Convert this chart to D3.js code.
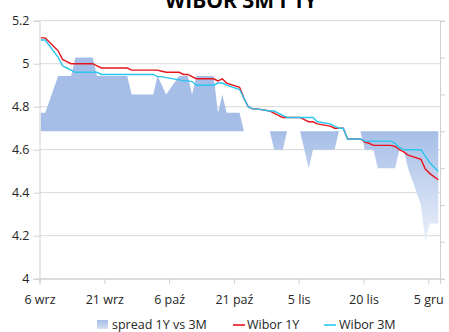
<!DOCTYPE html>
<html>
<head>
<meta charset="utf-8">
<script src="https://cdn.jsdelivr.net/npm/d3@7"></script>
<style>
  html, body { margin: 0; padding: 0; background: #ffffff; }
  svg { display: block; }
  text { font-family: "Open Sans", "Noto Sans", sans-serif; fill: #262626; }
</style>
</head>
<body>
<svg id="chart" width="449" height="332"></svg>
<script>
// Business days, Sep 6 – Dec 7 2012
const dates = [
  "2012-09-06","2012-09-07","2012-09-10","2012-09-11","2012-09-12","2012-09-13","2012-09-14",
  "2012-09-17","2012-09-18","2012-09-19","2012-09-20","2012-09-21","2012-09-24","2012-09-25",
  "2012-09-26","2012-09-27","2012-09-28",
  "2012-10-01","2012-10-02","2012-10-03","2012-10-04","2012-10-05","2012-10-08","2012-10-09",
  "2012-10-10","2012-10-11","2012-10-12","2012-10-15","2012-10-16","2012-10-17","2012-10-18",
  "2012-10-19","2012-10-22","2012-10-23","2012-10-24","2012-10-25","2012-10-26","2012-10-29",
  "2012-10-30","2012-10-31",
  "2012-11-01","2012-11-02","2012-11-05","2012-11-06","2012-11-07","2012-11-08","2012-11-09",
  "2012-11-12","2012-11-13","2012-11-14","2012-11-15","2012-11-16","2012-11-19","2012-11-20",
  "2012-11-21","2012-11-22","2012-11-23","2012-11-26","2012-11-27","2012-11-28","2012-11-29",
  "2012-11-30",
  "2012-12-03","2012-12-04","2012-12-05","2012-12-06","2012-12-07"
];

const wibor1Y = [
  5.12,5.12,5.06,5.02,5.01,5.00,5.00,5.00,5.00,4.99,4.98,4.98,4.98,4.98,4.98,4.97,4.97,
  4.97,4.97,4.97,4.965,4.96,4.96,4.95,4.95,4.94,4.93,4.93,4.93,4.92,4.93,4.91,4.89,4.84,4.80,4.79,4.79,4.78,4.77,4.76,
  4.75,4.75,4.75,4.74,4.73,4.73,4.72,4.71,4.70,4.70,4.70,4.65,4.65,4.635,4.63,4.62,4.62,4.62,4.615,4.60,4.59,4.575,
  4.555,4.51,4.49,4.475,4.46
];

const wibor3M = [
  5.11,5.11,5.03,4.99,4.98,4.97,4.96,4.96,4.96,4.96,4.95,4.95,4.95,4.95,4.95,4.95,4.95,
  4.95,4.95,4.94,4.94,4.935,4.925,4.92,4.92,4.917,4.90,4.90,4.90,4.91,4.91,4.90,4.88,4.84,4.80,4.79,4.79,4.78,4.78,4.77,
  4.76,4.75,4.75,4.75,4.75,4.75,4.73,4.72,4.71,4.70,4.70,4.65,4.65,4.64,4.64,4.64,4.64,4.64,4.63,4.61,4.60,4.60,
  4.60,4.57,4.54,4.52,4.50
];

const spread = [
  0.01,0.01,0.03,0.03,0.03,0.03,0.04,0.04,0.04,0.03,0.03,0.03,0.03,0.03,0.03,0.02,0.02,
  0.02,0.02,0.03,0.025,0.02,0.03,0.03,0.03,0.02,0.03,0.03,0.03,0.01,0.02,0.01,0.01,0,0,0,0,0,-0.01,-0.01,
  -0.01,0,0,-0.01,-0.02,-0.01,-0.01,-0.01,-0.01,0,0,0,0,-0.01,-0.01,-0.01,-0.02,-0.02,-0.02,-0.01,-0.01,-0.02,
  -0.04,-0.06,-0.05,-0.05,-0.05
];

const tickDates = ["2012-09-06","2012-09-21","2012-10-06","2012-10-21","2012-11-05","2012-11-20","2012-12-05"];
const tickLabels = ["6 wrz","21 wrz","6 paź","21 paź","5 lis","20 lis","5 gru"];
const yTicks = [4, 4.2, 4.4, 4.6, 4.8, 5, 5.2];
const spreadTicks = [-0.08, -0.06, -0.04, -0.02, 0, 0.02, 0.04, 0.06];

const title = "WIBOR 3M I 1Y";
const seriesNames = ["spread 1Y vs 3M", "Wibor 1Y", "Wibor 3M"];
const colors = { spreadTop: "#a6bee7", spreadBottom: "#f0f4fb", y1: "#e8141c", m3: "#29c5ef" };

const parse = d3.timeParse("%Y-%m-%d");
const day = 864e5;
const rows = dates.map((d, i) => ({ date: parse(d), y1: wibor1Y[i], m3: wibor3M[i], s: spread[i] }));

const svg = d3.select("#chart");
const plot = { left: 39.5, right: 440, top: 20.7, bottom: 278.7 };

const x = d3.scaleTime()
  .domain([parse("2012-09-06"), new Date(parse("2012-12-07").getTime() + 0.72 * day)])
  .range([plot.left, plot.right]);
// each point sits a little inside its day band
const px = d => x(new Date(d.getTime() + 0.32 * day));

const y = d3.scaleLinear().domain([4, 5.2]).range([plot.bottom, plot.top]);
const ys = d3.scaleLinear().domain([-0.08, 0.06]).range([plot.bottom, plot.top]);

// gradient for the spread area
const defs = svg.append("defs");
const grad = defs.append("linearGradient").attr("id", "spreadFill")
  .attr("gradientUnits", "userSpaceOnUse")
  .attr("x1", 0).attr("x2", 0).attr("y1", ys(0)).attr("y2", ys(-0.065));
grad.append("stop").attr("offset", 0).attr("stop-color", colors.spreadTop);
grad.append("stop").attr("offset", 1).attr("stop-color", colors.spreadBottom);
const gradL = defs.append("linearGradient").attr("id", "spreadLegend")
  .attr("x1", 0).attr("x2", 0).attr("y1", 0).attr("y2", 1);
gradL.append("stop").attr("offset", 0).attr("stop-color", colors.spreadTop);
gradL.append("stop").attr("offset", 1).attr("stop-color", "#d6e1f4");

// title (runs off the top edge)
svg.append("text").attr("x", 241).attr("y", 7.5)
  .attr("text-anchor", "middle")
  .style("font-size", "21px").style("font-weight", "bold").style("fill", "#000")
  .text(title);

// horizontal gridlines
svg.append("g").selectAll("line").data(yTicks).join("line")
  .attr("x1", plot.left).attr("x2", plot.right)
  .attr("y1", d => y(d)).attr("y2", d => y(d))
  .attr("stroke", "#d9d9d9").attr("stroke-width", 1);

// spread area (secondary axis)
const area = d3.area()
  .x(d => px(d.date))
  .y0(ys(0))
  .y1(d => ys(d.s));
svg.append("path").datum(rows)
  .attr("d", area)
  .attr("fill", "url(#spreadFill)");

// left axis
const yAxis = d3.axisLeft(y).tickValues(yTicks).tickSize(6).tickPadding(4)
  .tickFormat(d => d3.format("")(+d.toFixed(1)));
const gy = svg.append("g").attr("transform", `translate(${plot.left},0)`).call(yAxis);
gy.select(".domain").attr("stroke", "#d0d0d0");
gy.selectAll(".tick line").attr("stroke", "#d0d0d0");
gy.selectAll("text").style("font-size", "12.5px").style("fill", "#262626");

// right axis, unlabeled
const ysAxis = d3.axisRight(ys).tickValues(spreadTicks).tickSize(5).tickFormat("");
const gr = svg.append("g").attr("transform", `translate(${plot.right},0)`).call(ysAxis);
gr.select(".domain").attr("stroke", "#d0d0d0");
gr.selectAll(".tick line").attr("stroke", "#d0d0d0");

// bottom axis
const xAxis = d3.axisBottom(x).tickValues(tickDates.map(parse)).tickSize(5).tickPadding(11)
  .tickFormat((d, i) => tickLabels[i]);
const gx = svg.append("g").attr("transform", `translate(0,${plot.bottom})`).call(xAxis);
gx.select(".domain").attr("stroke", "#d0d0d0");
gx.selectAll(".tick line").attr("stroke", "#d0d0d0");
gx.selectAll("text").style("font-size", "12.5px").style("fill", "#262626");

// lines
const line1 = d3.line().x(d => px(d.date)).y(d => y(d.y1));
const line3 = d3.line().x(d => px(d.date)).y(d => y(d.m3));
svg.append("path").datum(rows).attr("d", line1)
  .attr("fill", "none").attr("stroke", colors.y1).attr("stroke-width", 1.4);
svg.append("path").datum(rows).attr("d", line3)
  .attr("fill", "none").attr("stroke", colors.m3).attr("stroke-width", 1.4);

// legend
const lg = svg.append("g");
lg.append("rect").attr("x", 97).attr("y", 320).attr("width", 11).attr("height", 9)
  .attr("fill", "url(#spreadLegend)");
lg.append("text").attr("x", 112).attr("y", 329).style("font-size", "12.5px").text(seriesNames[0]);
lg.append("line").attr("x1", 233).attr("x2", 245).attr("y1", 325).attr("y2", 325)
  .attr("stroke", colors.y1).attr("stroke-width", 1.6);
lg.append("text").attr("x", 247).attr("y", 329).style("font-size", "12.5px").text(seriesNames[1]);
lg.append("line").attr("x1", 324).attr("x2", 336).attr("y1", 325).attr("y2", 325)
  .attr("stroke", colors.m3).attr("stroke-width", 1.6);
lg.append("text").attr("x", 339).attr("y", 329).style("font-size", "12.5px").text(seriesNames[2]);
</script>
</body>
</html>
